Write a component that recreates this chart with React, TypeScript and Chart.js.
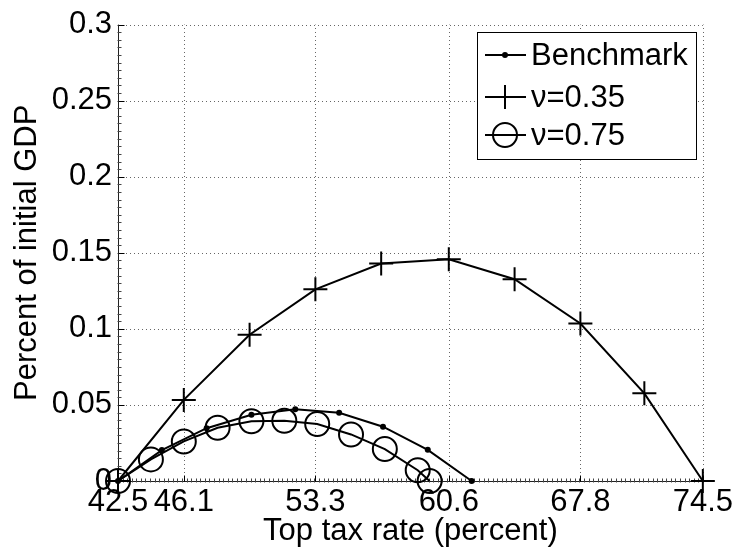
import React, { useEffect, useRef } from "react";
import { Chart, registerables } from "chart.js";

Chart.register(...registerables);

const xTicks = [42.5, 46.1, 53.3, 60.6, 67.8, 74.5];
const yTicks = [0, 0.05, 0.1, 0.15, 0.2, 0.25, 0.3];

const benchX = [42.5, 44.9, 47.35, 49.8, 52.2, 54.6, 57.0, 59.45, 61.85];
const benchY = [0, 0.0203, 0.0347, 0.0436, 0.0471, 0.0448, 0.0357, 0.0205, 0];

const nu35X = [42.5, 46.1, 49.7, 53.3, 56.9, 60.6, 64.2, 67.8, 71.3, 74.5];
const nu35Y = [0, 0.0533, 0.0961, 0.126, 0.143, 0.1457, 0.1326, 0.1035, 0.0576, 0];

const nu75X = [42.5, 44.3, 46.1, 47.95, 49.8, 51.6, 53.4, 55.25, 57.1, 58.9, 59.55];
const nu75Y = [0, 0.0142, 0.026, 0.035, 0.0393, 0.0396, 0.0375, 0.0306, 0.021, 0.0071, 0];

const seriesNames = ["Benchmark", "\u03bd=0.35", "\u03bd=0.75"];

const FONT = '"Liberation Sans", Arial, Helvetica, sans-serif';
const FS = 31;

function drawMarker(ctx: CanvasRenderingContext2D, kind: number, x: number, y: number) {
  ctx.save();
  ctx.strokeStyle = "#000";
  ctx.fillStyle = "#000";
  ctx.lineWidth = 2;
  if (kind === 0) {
    ctx.beginPath();
    ctx.arc(x, y, 3, 0, Math.PI * 2);
    ctx.fill();
  } else if (kind === 1) {
    ctx.beginPath();
    ctx.moveTo(x - 12, y);
    ctx.lineTo(x + 12, y);
    ctx.moveTo(x, y - 12);
    ctx.lineTo(x, y + 12);
    ctx.stroke();
  } else {
    ctx.beginPath();
    ctx.arc(x, y, 12, 0, Math.PI * 2);
    ctx.stroke();
  }
  ctx.restore();
}

export default function App() {
  const ref = useRef<HTMLCanvasElement>(null);

  useEffect(() => {
    document.body.style.margin = "0";
    const canvas = ref.current!;
    const toPts = (xs: number[], ys: number[]) => xs.map((x, i) => ({ x, y: ys[i] }));

    const axesPlugin = {
      id: "matlabAxes",
      beforeDatasetsDraw(chart: any) {
        const { ctx, chartArea: ca, scales } = chart;
        const xs = scales.x;
        const ys = scales.y;
        ctx.save();
        // dotted grid
        ctx.strokeStyle = "#666";
        ctx.lineWidth = 1;
        ctx.setLineDash([1, 3]);
        xTicks.forEach((v) => {
          if (v === xTicks[0]) return;
          const px = Math.round(xs.getPixelForValue(v)) + 0.5;
          ctx.beginPath();
          ctx.moveTo(px, ca.bottom);
          ctx.lineTo(px, ca.top);
          ctx.stroke();
        });
        yTicks.forEach((v) => {
          if (v === 0) return;
          const py = Math.round(ys.getPixelForValue(v)) + 0.5;
          ctx.beginPath();
          ctx.moveTo(ca.left, py);
          ctx.lineTo(ca.right, py);
          ctx.stroke();
        });
        ctx.setLineDash([]);
        // axes lines
        ctx.strokeStyle = "#222";
        const lx = Math.round(ca.left) + 0.5;
        const by = Math.round(ca.bottom) + 0.5;
        ctx.beginPath();
        ctx.moveTo(lx, ca.top);
        ctx.lineTo(lx, by);
        ctx.lineTo(ca.right, by);
        ctx.stroke();
        // minor ticks
        ctx.strokeStyle = "#444";
        for (let v = 0; v <= 0.3 + 1e-9; v += 0.005) {
          const py = Math.round(ys.getPixelForValue(v)) + 0.5;
          ctx.beginPath();
          ctx.moveTo(lx - 1, py);
          ctx.lineTo(lx + 3, py);
          ctx.stroke();
        }
        for (let v = 42.5; v <= 74.5 + 1e-9; v += 0.25) {
          const px = Math.round(xs.getPixelForValue(v)) + 0.5;
          ctx.beginPath();
          ctx.moveTo(px, by + 1);
          ctx.lineTo(px, by - 3);
          ctx.stroke();
        }
        // major ticks
        ctx.strokeStyle = "#000";
        yTicks.forEach((v) => {
          const py = Math.round(ys.getPixelForValue(v)) + 0.5;
          ctx.beginPath();
          ctx.moveTo(lx, py);
          ctx.lineTo(lx + 6, py);
          ctx.stroke();
        });
        xTicks.forEach((v) => {
          const px = Math.round(xs.getPixelForValue(v)) + 0.5;
          ctx.beginPath();
          ctx.moveTo(px, by);
          ctx.lineTo(px, by - 6);
          ctx.stroke();
        });
        ctx.restore();
      },
      afterDraw(chart: any) {
        const { ctx, chartArea: ca } = chart;
        const w = 219;
        const h = 127;
        const right = Math.round(ca.right) - 7;
        const left = right - w;
        const top = Math.round(ca.top) + 7;
        ctx.save();
        ctx.fillStyle = "#fff";
        ctx.fillRect(left + 0.5, top + 0.5, w, h);
        ctx.strokeStyle = "#000";
        ctx.lineWidth = 1;
        ctx.strokeRect(left + 0.5, top + 0.5, w, h);
        ctx.font = `${FS}px ${FONT}`;
        ctx.textBaseline = "alphabetic";
        ctx.textAlign = "left";
        const rows = [23, 65, 103];
        seriesNames.forEach((name, i) => {
          const y = top + rows[i];
          ctx.strokeStyle = "#000";
          ctx.lineWidth = 2;
          ctx.beginPath();
          ctx.moveTo(left + 8, y);
          ctx.lineTo(left + 49, y);
          ctx.stroke();
          drawMarker(ctx, i, left + 28, y);
          ctx.fillStyle = "#000";
          ctx.fillText(name, left + 54, y + 10);
        });
        ctx.restore();
      },
    };

    const font = { family: FONT, size: FS };

    const chart = new Chart(canvas, {
      type: "line",
      data: {
        datasets: [
          {
            label: seriesNames[0],
            data: toPts(benchX, benchY),
            borderColor: "#000",
            borderWidth: 2,
            pointStyle: "circle",
            pointRadius: 3,
            pointBackgroundColor: "#000",
            pointBorderColor: "#000",
            pointBorderWidth: 0,
            tension: 0,
            clip: false as any,
          },
          {
            label: seriesNames[1],
            data: toPts(nu35X, nu35Y),
            borderColor: "#000",
            borderWidth: 2,
            pointStyle: "cross",
            pointRadius: 12,
            pointBorderColor: "#000",
            pointBorderWidth: 2,
            tension: 0,
            clip: false as any,
          },
          {
            label: seriesNames[2],
            data: toPts(nu75X, nu75Y),
            borderColor: "#000",
            borderWidth: 2,
            pointStyle: "circle",
            pointRadius: 12,
            pointBackgroundColor: "rgba(0,0,0,0)",
            pointBorderColor: "#000",
            pointBorderWidth: 2,
            tension: 0,
            clip: false as any,
          },
        ],
      },
      options: {
        animation: false,
        responsive: false,
        events: [],
        layout: { padding: { top: 18, right: 32, left: 0, bottom: 0 } },
        plugins: { legend: { display: false }, tooltip: { enabled: false } },
        scales: {
          x: {
            type: "linear",
            min: xTicks[0],
            max: xTicks[xTicks.length - 1],
            afterBuildTicks: (s: any) => {
              s.ticks = xTicks.map((v) => ({ value: v }));
            },
            afterFit: (s: any) => {
              s.height = 74;
            },
            grid: { display: false, drawTicks: false },
            border: { display: false },
            ticks: {
              font,
              color: "#000",
              padding: 3,
              autoSkip: false,
              maxRotation: 0,
              minRotation: 0,
              callback: (v: any) => String(v),
            },
            title: {
              display: true,
              text: "Top tax rate (percent)",
              font,
              color: "#000",
              padding: { top: 0, bottom: 5 },
            },
          },
          y: {
            type: "linear",
            min: yTicks[0],
            max: yTicks[yTicks.length - 1],
            afterBuildTicks: (s: any) => {
              s.ticks = yTicks.map((v) => ({ value: v }));
            },
            afterFit: (s: any) => {
              s.width = 118;
            },
            grid: { display: false, drawTicks: false },
            border: { display: false },
            ticks: {
              font,
              color: "#000",
              padding: 6,
              autoSkip: false,
              callback: (v: any) => String(parseFloat(Number(v).toFixed(3))),
            },
            title: {
              display: true,
              text: "Percent of initial GDP",
              font,
              color: "#000",
              padding: { top: 9, bottom: 0 },
            },
          },
        },
      },
      plugins: [axesPlugin],
    });

    return () => chart.destroy();
  }, []);

  return (
    <div style={{ width: 736, height: 555 }}>
      <canvas ref={ref} width={736} height={555} style={{ display: "block" }} />
    </div>
  );
}
